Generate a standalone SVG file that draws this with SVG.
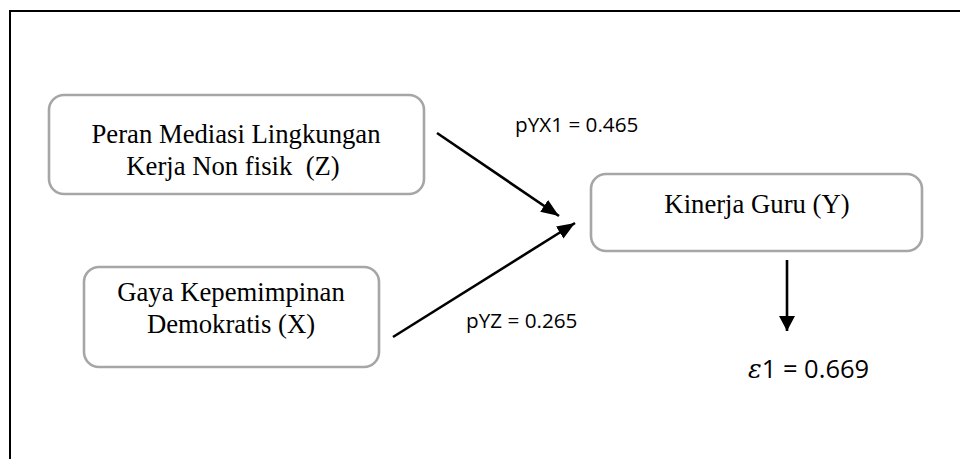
<svg xmlns="http://www.w3.org/2000/svg" width="960" height="459" viewBox="0 0 960 459">
<style>
.box{fill:#fff;stroke:#a6a6a6;stroke-width:2.6}
.t{font-family:"Liberation Serif","Times New Roman",serif;font-size:26.7px;fill:#000;text-anchor:middle;white-space:pre}
.lbl{font-family:"Open Sans","Noto Sans",sans-serif;font-size:20.7px;fill:#000}
.edge{fill:none;stroke:#000;stroke-width:2.6}
</style>
<defs>
<marker id="ah" markerUnits="userSpaceOnUse" markerWidth="20" markerHeight="16" refX="18" refY="7" orient="auto">
<path d="M0,0 L18,7 L0,14 Z" fill="#000"/>
</marker>
<marker id="ah2" markerUnits="userSpaceOnUse" markerWidth="18" markerHeight="18" refX="15" refY="8" orient="auto">
<path d="M0,0 L15,8 L0,16 Z" fill="#000"/>
</marker>
</defs>
<rect width="960" height="459" fill="#fff"/>
<path d="M10,459 V11 H960" fill="none" stroke="#000" stroke-width="2"/>
<g id="node-z">
<rect class="box" x="49" y="95" width="375" height="99" rx="15"/>
<text class="t" x="236" y="143">Peran Mediasi Lingkungan</text>
<text class="t" x="233" y="175">Kerja Non fisik  (Z)</text>
</g>
<g id="node-x">
<rect class="box" x="84" y="267" width="295" height="100" rx="15"/>
<text class="t" x="231" y="301">Gaya Kepemimpinan</text>
<text class="t" x="231" y="333">Demokratis (X)</text>
</g>
<g id="node-y">
<rect class="box" x="591" y="174" width="331" height="77" rx="15"/>
<text class="t" x="757" y="213">Kinerja Guru (Y)</text>
</g>
<g id="connectors">
<line class="edge" x1="437" y1="133" x2="559" y2="216" marker-end="url(#ah)"/>
<line class="edge" x1="393" y1="337" x2="575" y2="223" marker-end="url(#ah)"/>
<line class="edge" x1="787" y1="260" x2="787" y2="331" stroke-width="2.2" marker-end="url(#ah2)"/>
</g>
<g id="labels">
<text class="lbl" x="515" y="132">pYX1 = 0.465</text>
<text class="lbl" x="466" y="328">pYZ = 0.265</text>
<text class="lbl" x="748" y="378" style="font-size:25.5px"><tspan style="font-family:'DejaVu Serif','Liberation Serif',serif;font-style:italic">ε</tspan>1 = 0.669</text>
</g>
</svg>
